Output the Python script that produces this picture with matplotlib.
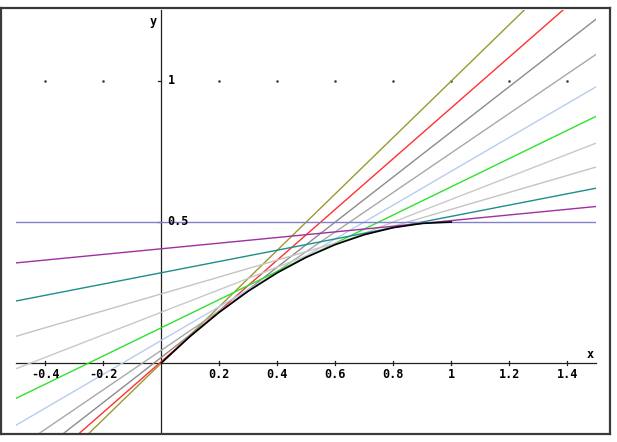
import matplotlib.pyplot as plt
from matplotlib.patches import Rectangle

# points of tangency on the curve, their y values and the slopes of the tangents
x0 = [0.0, 0.1, 0.2, 0.3, 0.4, 0.5, 0.6, 0.7, 0.8, 0.9, 1.0]
y0 = [0.0, 0.095, 0.18, 0.255, 0.32, 0.375, 0.42, 0.455, 0.48, 0.495, 0.5]
slopes = [1.0, 0.9, 0.8, 0.7, 0.6, 0.5, 0.4, 0.3, 0.2, 0.1, 0.0]
colors = ['#9a9a30', '#ff3030', '#8c8c8c', '#a8a8a8', '#b8ccf0', '#30e030',
          '#c8c8c8', '#c4c4c4', '#208c8c', '#a030a0', '#8080c8']

xticks = [-0.4, -0.2, 0.2, 0.4, 0.6, 0.8, 1, 1.2, 1.4]
xlabels = ['-0.4', '-0.2', '0.2', '0.4', '0.6', '0.8', '1', '1.2', '1.4']
yticks = [0.5, 1]
ylabels = ['0.5', '1']

# window of the drawing
xmin, xmax = -0.5, 1.5
ymin, ymax = -0.25, 1.25

fig = plt.figure(figsize=(6.17, 4.42), dpi=100)
ax = fig.add_axes([0.002, 0.018, 0.987, 0.964])
ax.set_xlim(-0.552, 1.548)
ax.set_ylim(-0.252, 1.259)
ax.set_xticks([])
ax.set_yticks([])
for s in ax.spines.values():
    s.set_color('#3a3a3a')
    s.set_linewidth(1.6)

clip = Rectangle((xmin, ymin), xmax - xmin, ymax - ymin, transform=ax.transData)

# grid dots (the row at 0.5 is hidden under the horizontal tangent)
ax.plot(xticks, [yticks[-1]] * len(xticks), ls='none', marker='s', ms=0.8,
        color='#404040', zorder=1)

# axes
ax.plot([xmin, xmax], [0, 0], color='#202020', lw=0.9, zorder=2)
ax.plot([0, 0], [ymin, ymax], color='#202020', lw=0.9, zorder=2)
for xt in xticks:
    ax.plot([xt, xt], [-0.008, 0.008], color='#202020', lw=0.9, zorder=2)
for yt in yticks:
    ax.plot([-0.012, 0], [yt, yt], color='#202020', lw=0.9, zorder=2)

font = dict(family='DejaVu Sans Mono', weight='bold', size=8.5)
for xt, lab in zip(xticks, xlabels):
    ax.annotate(lab, (xt, 0), xytext=(0, -8), textcoords='offset points',
                ha='center', va='center', zorder=5, **font)
for yt, lab in zip(yticks, ylabels):
    ax.annotate(lab, (0, yt), xytext=(4.5, 0), textcoords='offset points',
                ha='left', va='center', zorder=5, **font)
ax.annotate('x', (xmax, 0), xytext=(-4, 6), textcoords='offset points',
            ha='center', va='center', zorder=5, **font)
ax.annotate('y', (0, ymax), xytext=(-6, -8), textcoords='offset points',
            ha='center', va='center', zorder=5, **font)

# tangent lines
for px, py, m, c in zip(x0, y0, slopes, colors):
    ln = ax.axline((px, py), slope=m, color=c, lw=1.0, zorder=3)
    ln.set_clip_path(clip)

# the curve
ax.plot(x0, y0, color='black', lw=1.2, zorder=4)

fig.savefig('out.png', dpi=100)
